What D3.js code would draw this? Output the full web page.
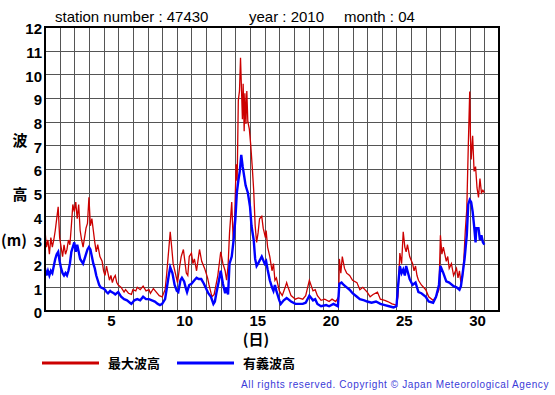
<!DOCTYPE html>
<html>
<head>
<meta charset="utf-8">
<script src="https://cdn.jsdelivr.net/npm/d3@7"></script>
<style>
  body { margin: 0; background: #fff; }
  text { font-family: "Liberation Sans", Arial, sans-serif; }
</style>
</head>
<body>
<div id="wrapper"></div>
<script>
// time in days from 1 April 00:00, wave height in metres
const maxDays = [0.0,0.1,0.2,0.3,0.4,0.5,0.6,0.7,0.8,0.9,1.0,1.1,1.2,1.3,1.4,1.5,1.6,1.7,1.8,1.9,2.0,2.1,2.2,2.3,2.4,2.5,2.6,2.7,2.8,2.9,3.0,3.1,3.2,3.3,3.4,3.5,3.6,3.75,3.9,4.0,4.1,4.2,4.3,4.4,4.5,4.6,4.7,4.8,4.9,5.0,
  5.2,5.4,5.5,5.7,5.9,6.0,6.2,6.3,6.5,6.7,6.9,7.1,7.2,7.4,7.6,7.8,8.0,8.2,
  8.3,8.45,8.55,8.65,8.75,8.9,9.05,9.2,9.3,9.45,9.55,9.65,9.75,9.85,10.0,
  10.1,10.2,10.35,10.55,10.7,10.9,11.1,11.2,11.4,11.55,11.8,12.0,12.15,12.3,12.4,12.5,12.6,12.75,12.85,12.95,13.05,13.12,13.2,13.28,13.35,13.42,13.48,13.53,13.6,13.65,13.72,13.78,13.85,13.95,14.05,14.15,14.25,14.35,14.45,14.55,14.65,14.8,14.9,15.05,15.1,15.2,15.35,15.5,15.6,15.7,15.8,16.0,
  16.2,16.4,16.5,16.6,16.8,17.1,17.3,17.6,17.8,18.05,18.3,18.45,18.6,18.85,19.1,19.4,19.6,19.85,20.05,20.1,20.2,20.3,20.45,20.6,20.8,21.0,21.3,21.5,21.7,22.0,22.2,22.4,22.7,22.9,23.2,23.4,23.7,24.0,24.1,
  24.23,24.35,24.46,24.57,24.66,24.75,24.9,25.1,25.2,25.3,25.4,25.5,25.7,26.0,26.2,26.5,26.7,26.9,27.0,27.1,27.2,27.4,27.5,27.6,27.75,27.9,28.1,28.2,28.3,28.4,28.5,28.6,28.7,28.8,28.9,29.0,29.05,29.1,29.2,29.3,29.4,29.5,29.6,29.7,29.8,29.9,30.0];
const maxWave = [3.4,2.7,3.0,2.4,3.1,2.7,3.0,3.4,3.9,4.4,3.1,2.7,2.3,2.8,2.4,2.6,3.0,2.8,3.6,4.5,4.2,4.6,3.9,4.5,3.4,3.0,2.7,3.1,3.5,3.7,4.8,3.6,3.9,3.4,2.9,2.5,2.8,2.3,2.1,1.7,1.5,1.9,1.6,1.3,1.5,1.2,1.4,1.5,1.2,1.1,
  1.0,0.8,0.9,0.75,0.7,0.9,0.85,1.0,0.9,1.05,0.85,0.9,0.75,0.95,0.8,0.65,0.6,0.9,
  1.5,2.6,3.35,2.7,2.0,1.6,1.2,1.9,2.3,2.6,2.1,1.6,1.5,2.3,2.45,
  2.0,2.2,1.7,2.6,2.1,1.8,1.4,1.1,0.6,0.7,1.5,2.5,2.0,1.7,1.3,1.9,3.3,4.6,3.0,3.9,6.2,5.5,8.9,9.3,10.7,9.3,8.1,9.6,7.6,9.2,7.9,9.3,8.0,7.7,7.0,6.1,5.1,3.6,2.9,3.3,3.9,4.0,3.5,3.1,3.4,2.7,2.3,1.7,2.0,1.3,1.4,0.85,
  0.65,1.0,1.2,1.0,0.65,0.5,0.55,0.5,0.65,1.3,0.85,0.9,0.65,0.45,0.5,0.4,0.5,0.4,0.6,2.2,1.6,2.3,1.8,1.6,1.5,1.3,1.2,0.9,1.0,0.8,0.6,0.7,0.8,0.5,0.45,0.4,0.3,0.25,0.6,
  2.45,2.0,3.35,2.7,2.5,2.8,2.3,2.0,1.7,1.9,1.5,1.3,1.1,0.9,0.6,0.45,0.6,0.9,3.2,2.4,2.7,2.1,2.3,1.8,2.0,1.5,1.8,1.4,1.7,1.2,1.4,2.2,3.4,4.3,6.9,9.27,7.4,6.4,7.4,5.9,6.1,5.2,4.8,5.6,5.0,5.1,5.0];

const sigDays = [0.0,0.1,0.2,0.3,0.4,0.5,0.6,0.7,0.8,0.9,1.0,1.1,1.2,1.3,1.4,1.5,1.6,1.7,1.8,1.9,2.0,2.1,2.2,2.3,2.4,2.5,2.6,2.7,2.8,2.9,3.0,3.1,3.2,3.3,3.4,3.5,3.6,3.7,3.8,4.0,4.1,4.2,4.3,4.45,4.55,4.7,4.8,5.0,5.2,
  5.4,5.6,5.8,5.9,6.1,6.3,6.5,6.7,6.9,7.1,7.3,7.5,7.7,7.85,8.0,8.2,
  8.3,8.45,8.55,8.7,8.85,9.0,9.1,9.25,9.35,9.5,9.6,9.7,9.85,10.0,
  10.2,10.35,10.5,10.67,10.85,11.0,11.15,11.33,11.5,11.6,11.7,11.85,12.0,12.15,12.3,12.4,12.5,12.6,12.75,12.88,13.0,13.1,13.2,13.3,13.4,13.5,13.6,13.7,13.85,14.0,14.1,14.25,14.35,14.45,14.55,14.8,15.0,15.1,15.2,15.35,15.5,15.6,15.7,15.8,16.0,
  16.1,16.3,16.5,16.6,16.8,17.1,17.6,17.8,18.05,18.3,18.45,18.6,18.85,19.2,19.4,19.7,20.0,20.1,20.25,20.4,20.6,20.8,21.0,21.3,21.5,21.8,22.0,22.3,22.6,22.9,23.2,23.5,23.8,24.0,24.1,
  24.23,24.35,24.46,24.57,24.66,24.9,25.1,25.3,25.5,25.7,26.0,26.2,26.5,26.7,26.9,27.0,27.2,27.4,27.6,27.9,28.1,28.3,28.4,28.5,28.65,28.8,28.9,29.0,29.1,29.2,29.3,29.4,29.45,29.6,29.7,29.8,29.9,30.0];
const sigWave = [1.8,1.5,1.7,1.5,1.7,1.6,1.9,2.2,2.4,2.5,2.1,1.8,1.6,1.5,1.6,1.5,1.7,2.0,2.5,2.7,2.9,2.5,2.8,2.5,2.2,2.1,2.0,2.2,2.4,2.6,2.7,2.6,2.3,2.0,1.8,1.5,1.3,1.1,1.0,0.95,0.9,0.8,0.75,0.85,0.8,0.75,0.7,0.8,0.6,
  0.5,0.45,0.35,0.3,0.45,0.5,0.45,0.6,0.5,0.5,0.45,0.4,0.3,0.25,0.3,0.5,
  0.9,1.5,1.85,1.6,1.1,0.85,0.8,1.3,1.4,1.25,1.0,0.8,1.1,1.15,
  1.3,1.4,1.35,1.35,1.15,0.95,0.75,0.6,0.3,0.4,0.75,1.2,1.7,1.15,0.75,1.0,0.7,2.0,2.3,3.0,3.9,5.0,5.5,5.9,6.6,6.1,5.7,5.3,5.0,4.4,3.6,3.0,2.2,1.9,2.0,2.3,2.0,2.1,1.75,1.3,1.0,0.85,1.1,0.85,0.45,
  0.3,0.45,0.55,0.5,0.4,0.3,0.3,0.35,0.65,0.45,0.5,0.3,0.2,0.25,0.2,0.3,0.2,1.15,1.2,1.1,1.0,0.9,0.75,0.6,0.5,0.45,0.4,0.35,0.4,0.3,0.25,0.2,0.15,0.2,1.0,
  1.9,1.6,1.75,1.5,1.9,1.35,1.1,1.2,0.8,0.75,0.6,0.4,0.35,0.6,1.1,1.9,1.6,1.25,1.2,1.05,1.0,0.9,1.05,1.5,2.2,3.2,4.5,4.7,4.6,4.2,3.6,2.9,3.5,3.5,3.0,3.2,2.9,2.8];

const yTicks = [0,1,2,3,4,5,6,7,8,9,10,11,12];
const dayLabels = [5,10,15,20,25,30];
const legendNames = ["最大波高", "有義波高"];
const legendColors = ["#cc0000", "#0000ff"];

const width = 555, height = 395;
const svg = d3.select("#wrapper").append("svg")
  .attr("width", width).attr("height", height);

const x = d3.scaleLinear().domain([0, 31]).range([45, 499]);
const y = d3.scaleLinear().domain([0, 12]).range([311, 27]);

// title
svg.append("text").attr("x", 55).attr("y", 22)
  .style("font-size", "15px").text("station number : 47430");
svg.append("text").attr("x", 249).attr("y", 22)
  .style("font-size", "15px").text("year : 2010");
svg.append("text").attr("x", 344).attr("y", 22)
  .style("font-size", "15px").text("month : 04");

// grid
const grid = svg.append("g").attr("stroke", "#555").attr("stroke-width", 1);
grid.selectAll(".vline").data(d3.range(1, 31)).enter().append("line")
  .attr("x1", d => Math.round(x(d)) + 0.5).attr("x2", d => Math.round(x(d)) + 0.5)
  .attr("y1", y(12)).attr("y2", y(0));
grid.selectAll(".hline").data(yTicks.slice(1, -1)).enter().append("line")
  .attr("y1", d => Math.round(y(d)) + 0.5).attr("y2", d => Math.round(y(d)) + 0.5)
  .attr("x1", x(0)).attr("x2", x(31));

// y axis labels
const yAxis = d3.axisLeft(y).tickValues(yTicks).tickSize(0).tickPadding(3);
const yg = svg.append("g").attr("transform", `translate(${x(0)},2)`).call(yAxis);
yg.select(".domain").remove();
yg.selectAll("text").style("font-size", "15px").style("font-weight", "bold")
  .style("font-family", "'Liberation Sans', Arial, sans-serif").attr("fill", "#000");

// x axis labels, centred on each day
const xAxis = d3.axisBottom(x).tickValues(dayLabels.map(d => d - 0.5))
  .tickFormat(d => d + 0.5).tickSize(0).tickPadding(4);
const xg = svg.append("g").attr("transform", `translate(0,${y(0)})`).call(xAxis);
xg.select(".domain").remove();
xg.selectAll("text").style("font-size", "15px").style("font-weight", "bold")
  .style("font-family", "'Liberation Sans', Arial, sans-serif").attr("fill", "#000");

// data lines
const line = d3.line().x(d => x(d[0])).y(d => y(d[1]));
svg.append("path").datum(maxDays.map((d, i) => [d, maxWave[i]]))
  .attr("d", line).attr("fill", "none")
  .attr("stroke", legendColors[0]).attr("stroke-width", 1.3);
svg.append("path").datum(sigDays.map((d, i) => [d, sigWave[i]]))
  .attr("d", line).attr("fill", "none")
  .attr("stroke", legendColors[1]).attr("stroke-width", 2.4);

// frame
svg.append("rect").attr("x", x(0)).attr("y", y(12))
  .attr("width", x(31) - x(0)).attr("height", y(0) - y(12))
  .attr("fill", "none").attr("stroke", "#000").attr("stroke-width", 2);

// axis titles
const labStyle = s => s.style("font-size", "15px").style("font-weight", "bold")
  .attr("text-anchor", "middle")
  .style("font-family", "'Noto Sans CJK JP', sans-serif");
svg.append("text").attr("x", 20).attr("y", 146).call(labStyle).text("波");
svg.append("text").attr("x", 20).attr("y", 200).call(labStyle).text("高");
svg.append("text").attr("x", 14).attr("y", 246).call(labStyle).text("(m)");
svg.append("text").attr("x", 256).attr("y", 345).call(labStyle).text("(日)");

// legend
const leg = svg.append("g");
const legX = [42, 177];
legendNames.forEach((name, i) => {
  leg.append("line").attr("x1", legX[i]).attr("x2", legX[i] + 57)
    .attr("y1", 363).attr("y2", 363)
    .attr("stroke", legendColors[i]).attr("stroke-width", 3);
  leg.append("text").attr("x", legX[i] + 66).attr("y", 368)
    .style("font-size", "13px").style("font-weight", "bold")
    .style("font-family", "'Noto Sans CJK JP', sans-serif").text(name);
});

svg.append("text").attr("x", 549).attr("y", 388).attr("text-anchor", "end")
  .style("font-size", "10px").style("letter-spacing", "0.6px").attr("fill", "#3a3ad8")
  .text("All rights reserved. Copyright © Japan Meteorological Agency");
</script>
</body>
</html>
